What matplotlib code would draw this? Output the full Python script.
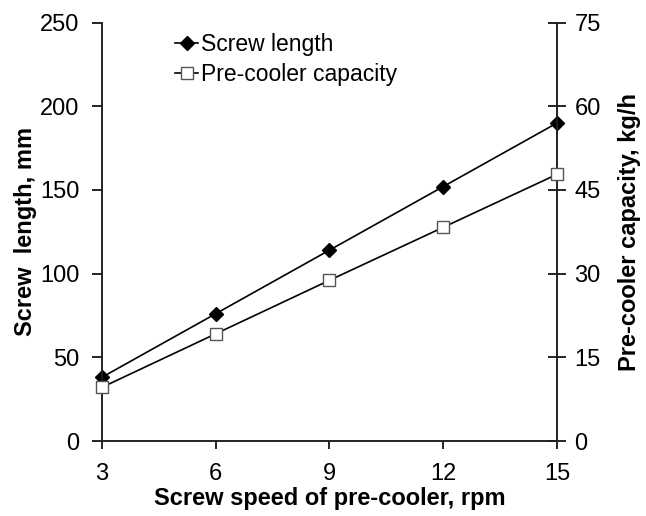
import matplotlib.pyplot as plt

plt.rcParams['font.family'] = ['Liberation Sans', 'DejaVu Sans']

speed = [3, 6, 9, 12, 15]
screw_len = [38, 76, 114, 152, 190]
capacity = [9.6, 19.2, 28.8, 38.3, 47.8]

fig = plt.figure(figsize=(6.46, 5.16), dpi=100)
ax = fig.add_axes([0.1574, 0.1453, 0.7048, 0.8109])
ax2 = ax.twinx()

l1, = ax.plot(speed, screw_len, color='black', lw=1.2, marker='D', ms=7,
              mfc='black', mec='black', clip_on=False, zorder=3)
l2, = ax2.plot(speed, capacity, color='black', lw=1.2, marker='s', ms=8.5,
               mfc='white', mec='#555555', mew=1, clip_on=False, zorder=3)

ax.set_xlim(3, 15)
ax.set_ylim(0, 250)
ax2.set_ylim(0, 75)
ax.set_xticks([3, 6, 9, 12, 15])
ax.set_yticks(range(0, 251, 50))
ax2.set_yticks(range(0, 76, 15))

for a in (ax, ax2):
    a.spines['top'].set_visible(False)
    for s in a.spines.values():
        s.set_linewidth(1.2)
        s.set_color('#222222')
ax.tick_params(axis='y', direction='out', length=7, width=1.2, labelsize=17, pad=9)
ax.tick_params(axis='x', direction='out', length=6, width=1.2, labelsize=17, pad=10)
ax2.tick_params(axis='y', direction='inout', length=13, width=1.2, labelsize=17, pad=6)

ax.set_xlabel('Screw speed of pre-cooler, rpm', fontsize=17, fontweight='bold', labelpad=1)
ax.set_ylabel('Screw  length, mm', fontsize=17, fontweight='bold', labelpad=2.5)
ax2.set_ylabel('Pre-cooler capacity, kg/h', fontsize=17, fontweight='bold', labelpad=12.5)

ax.legend([l1, l2], ['Screw length', 'Pre-cooler capacity'], loc='upper left',
          bbox_to_anchor=(0.257, 0.953), bbox_transform=fig.transFigure,
          borderaxespad=0, frameon=False, fontsize=16.5,
          handlelength=1.0, handletextpad=0.13, labelspacing=0.27)

fig.savefig('out.png', dpi=100)
